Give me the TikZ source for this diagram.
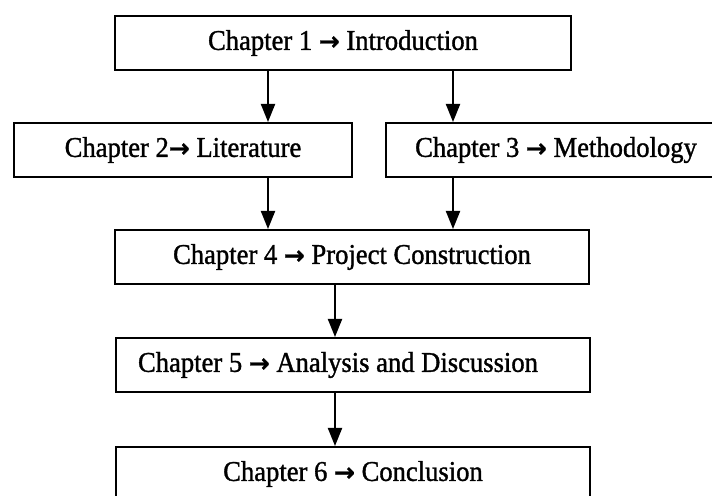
\documentclass[tikz,border=0pt]{standalone}
\usepackage{fontspec}
\setmainfont[FakeStretch=0.93,FakeBold=1.2]{Liberation Serif}
\newfontfamily\arrowfont[FakeBold=1]{DejaVu Sans}
\newcommand{\chto}{{\arrowfont\bfseries\fontsize{12.5}{12}\selectfont →}}
\usetikzlibrary{arrows.meta}
\begin{document}
\begin{tikzpicture}
  [x=0.5pt,y=-0.5pt,every node/.style={draw,rectangle,line width=1pt,minimum height=27pt,inner sep=0pt,font=\fontsize{14.3}{16}\selectfont}]
  \tikzstyle{link} = [line width=1pt,-{Triangle[length=9pt,width=7pt]}]
  \useasboundingbox (0,0) rectangle (712,496);
  \node[minimum width=228pt] (n1) at (343,43)  {Chapter 1 \chto{} Introduction};
  \node[minimum width=169pt] (n2) at (183,150) {Chapter 2\chto{} Literature};
  \node[minimum width=170pt] (n3) at (556,150) {Chapter 3 \chto{} Methodology};
  \node[minimum width=237pt] (n4) at (352,257) {Chapter 4 \chto{} Project Construction};
  \node[minimum width=237pt] (n5) at (353,365) {Chapter 5 \chto{} Analysis and Discussion\hspace*{15pt}};
  \node[minimum width=237pt] (n6) at (353,474) {Chapter 6 \chto{} Conclusion};
  \coordinate (xl) at (268,0);
  \coordinate (xr) at (453,0);
  \coordinate (xm) at (335,0);
  \foreach \source /\dest /\col in {n1/n2/xl,n1/n3/xr,n2/n4/xl,n3/n4/xr,n4/n5/xm,n5/n6/xm}
   \draw[link] (\source.south -| \col) -- (\dest.north -| \col);
\end{tikzpicture}
\end{document}
